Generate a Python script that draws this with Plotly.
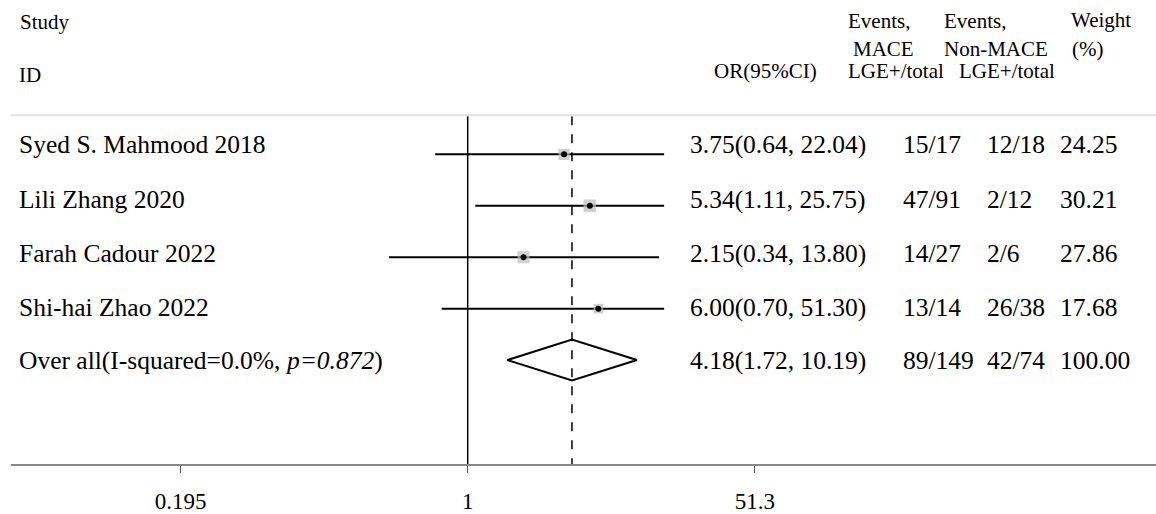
import math
import plotly.graph_objects as go

# ---------------- data ----------------
studies = ["Syed S. Mahmood 2018", "Lili Zhang 2020", "Farah Cadour 2022", "Shi-hai Zhao 2022"]
or_est = [3.75, 5.34, 2.15, 6.00]
ci_low = [0.64, 1.11, 0.34, 0.70]
ci_high = [22.04, 25.75, 13.80, 51.30]
events_mace = ["15/17", "47/91", "14/27", "13/14"]
events_non = ["12/18", "2/12", "2/6", "26/38"]
weights = [24.25, 30.21, 27.86, 17.68]

overall_est = 4.18
overall_low = 1.72
overall_high = 10.19
overall_mace = "89/149"
overall_non = "42/74"
overall_weight = 100.00
i_squared = 0.0
p_value = 0.872

tick_vals = [0.0195, 1, 51.3]
tick_text = ["0.195", "1", "51.3"]
x_clip = 14.8  # right clipping of CI lines

# ---------------- layout helpers ----------------
W, H = 1156, 514
ML, MB = 11, 43
FONT = "Liberation Serif"
ROW0_PX, ROW_PX = 156.7, 52.2
PLOT_H = H - MB


def px2y(py):
    return (py - ROW0_PX) / ROW_PX


def px2x(px):
    return (px - ML) / (W - ML)


n = len(studies)
rows = list(range(n))
overall_row = n

fig = go.Figure()

# CI lines
xs, ys = [], []
for r, lo, hi in zip(rows, ci_low, ci_high):
    xs += [lo, min(hi, x_clip), None]
    ys += [r, r, None]
fig.add_trace(go.Scatter(x=xs, y=ys, mode="lines", line=dict(color="black", width=2),
                         hoverinfo="skip", showlegend=False))

# weight boxes
fig.add_trace(go.Scatter(x=or_est, y=rows, mode="markers",
                         marker=dict(symbol="square", color="#bdbdbd",
                                     size=[2.3 * math.sqrt(w) for w in weights], line=dict(width=0)),
                         showlegend=False))
# point estimates
fig.add_trace(go.Scatter(x=or_est, y=rows, mode="markers",
                         marker=dict(symbol="circle", color="black", size=6),
                         showlegend=False))

# overall diamond
dh = 0.397
fig.add_trace(go.Scatter(
    x=[overall_low, overall_est, overall_high, overall_est, overall_low],
    y=[overall_row, overall_row - dh, overall_row, overall_row + dh, overall_row],
    mode="lines", line=dict(color="black", width=2), showlegend=False))

y_top_line = px2y(118)
y_bottom = px2y(PLOT_H)

shapes = [
    dict(type="line", xref="x", yref="y", x0=1, x1=1, y0=y_top_line, y1=y_bottom,
         line=dict(color="black", width=1.5)),
    dict(type="line", xref="x", yref="y", x0=overall_est, x1=overall_est, y0=y_top_line, y1=y_bottom,
         line=dict(color="black", width=1.5, dash="dash")),
    dict(type="line", xref="paper", yref="y", x0=0, x1=1, y0=px2y(117), y1=px2y(117),
         line=dict(color="#e2e2e2", width=2)),
]

ann = []


def txt(text, px, py, size, anchor="left"):
    ann.append(dict(text=text, xref="paper", yref="y", x=px2x(px), y=px2y(py),
                    xanchor=anchor, yanchor="middle", showarrow=False,
                    font=dict(family=FONT, size=size, color="black")))


# headers
HS = 21
txt("Study", 18, 22, HS)
txt("ID", 17, 76, HS)
txt("OR(95%CI)", 819, 72.5, HS, anchor="right")
txt("Events,", 846, 21.5, HS)
txt("MACE", 851, 50, HS)
txt("LGE+/total", 846, 72.5, HS)
txt("Events,", 942, 21.5, HS)
txt("Non-MACE", 942, 50, HS)
txt("LGE+/total", 957, 72.5, HS)
txt("Weight", 1069, 20, HS)
txt("(%)", 1070, 50, HS)

# body rows
BS = 25.5
text_px = [147, 202.5, 257.5, 312, 366]
labels = studies + [f"Over all(I-squared={i_squared:.1f}%, <i>p={p_value:.3f}</i>)"]
ors = [f"{e:.2f}({l:.2f}, {h:.2f})" for e, l, h in zip(or_est, ci_low, ci_high)] + \
      [f"{overall_est:.2f}({overall_low:.2f}, {overall_high:.2f})"]
c1 = events_mace + [overall_mace]
c2 = events_non + [overall_non]
c3 = [f"{w:.2f}" for w in weights] + [f"{overall_weight:.2f}"]
for i in range(n + 1):
    py = text_px[i]
    txt(labels[i], 17, py, BS)
    txt(ors[i], 688, py, BS)
    txt(c1[i], 901, py, BS)
    txt(c2[i], 985, py, BS)
    txt(c3[i], 1058, py, BS)

k = 72.9
left_log = ((ML - 467.7) / k) / math.log(10)
right_log = ((W - 467.7) / k) / math.log(10)

fig.update_layout(
    width=W, height=H,
    margin=dict(l=ML, r=0, t=0, b=MB),
    paper_bgcolor="white", plot_bgcolor="white",
    shapes=shapes, annotations=ann,
    xaxis=dict(type="log", range=[left_log, right_log], showgrid=False, zeroline=False,
               tickvals=tick_vals, ticktext=tick_text, ticks="outside", ticklen=7,
               tickcolor="#555", tickwidth=1, showline=True, linecolor="#888", linewidth=2,
               tickfont=dict(family=FONT, size=23, color="black"), ticklabelstandoff=8),
    yaxis=dict(range=[y_bottom, px2y(0)], visible=False, showgrid=False, zeroline=False),
)

fig.write_html("out.html", config={"displayModeBar": False},
               post_script="document.body.style.margin='0';document.body.style.overflow='hidden';")
